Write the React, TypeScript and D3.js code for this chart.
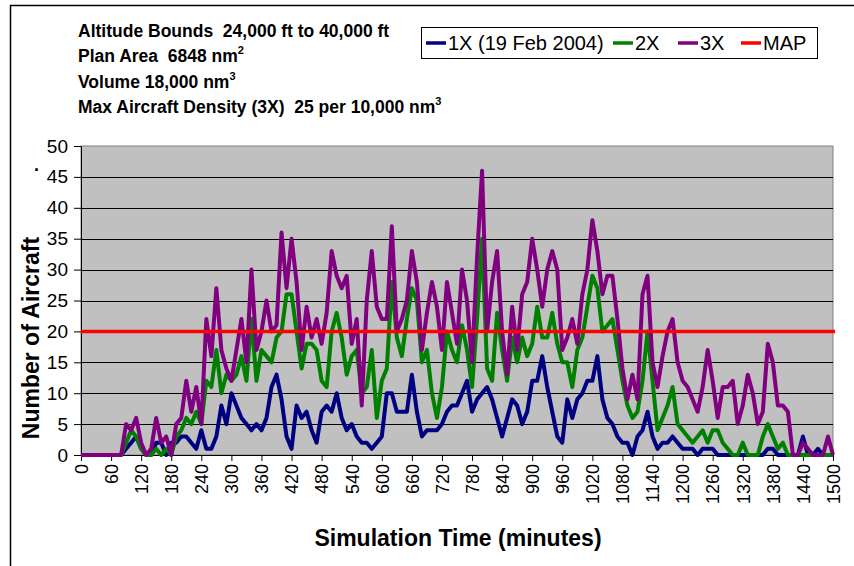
import React, { useEffect, useRef } from 'react';
import * as d3 from 'd3';

// sampled every 10 minutes, 0..1500
const minutes = d3.range(0, 1501, 10);

const series1X = [
  0, 0, 0, 0, 0, 0, 0, 0, 0, 1,
  2, 3, 1, 0, 0, 2, 2, 0, 2, 2,
  3, 3, 2, 1, 4, 1, 1, 3, 8, 5,
  10, 8, 6, 5, 4, 5, 4, 6, 11, 13,
  9, 3, 1, 8, 6, 7, 4, 2, 7, 8,
  7, 10, 6, 4, 5, 3, 2, 2, 1, 2,
  3, 10, 10, 7, 7, 7, 13, 7, 3, 4,
  4, 4, 5, 7, 8, 8, 10, 12, 7, 9,
  10, 11, 9, 6, 3, 6, 9, 8, 5, 7,
  12, 12, 16, 11, 7, 3, 2, 9, 6, 9,
  10, 12, 12, 16, 9, 6, 5, 3, 2, 2,
  0, 3, 4, 7, 3, 1, 2, 2, 3, 2,
  1, 1, 1, 0, 1, 1, 1, 0, 0, 0,
  0, 0, 0, 0, 0, 0, 0, 1, 1, 0,
  0, 0, 0, 0, 3, 0, 0, 1, 0, 0,
  0
];

const series2X = [
  0, 0, 0, 0, 0, 0, 0, 0, 0, 2,
  4, 3, 1, 0, 0, 1, 0, 1, 0, 3,
  4, 6, 5, 7, 5, 12, 11, 17, 10, 13,
  12, 13, 16, 12, 22, 12, 17, 16, 15, 19,
  20, 26, 26, 20, 14, 18, 18, 17, 12, 11,
  20, 23, 19, 13, 16, 17, 10, 11, 17, 6,
  12, 14, 28, 19, 16, 22, 27, 25, 15, 17,
  10, 6, 11, 20, 17, 15, 21, 17, 11, 22,
  35, 14, 12, 23, 17, 12, 19, 15, 19, 16,
  18, 24, 19, 19, 23, 18, 15, 15, 11, 17,
  19, 24, 29, 27, 20, 21, 22, 17, 12, 8,
  6, 7, 12, 20, 12, 4, 6, 8, 11, 5,
  4, 3, 2, 3, 4, 2, 4, 4, 2, 1,
  0, 0, 2, 0, 0, 0, 3, 5, 3, 1,
  2, 0, 0, 0, 0, 0, 0, 0, 0, 0,
  0
];

const series3X = [
  0, 0, 0, 0, 0, 0, 0, 0, 0, 5,
  4, 6, 2, 0, 1, 6, 2, 3, 0, 5,
  6, 12, 7, 11, 5, 22, 16, 27, 17, 14,
  12, 17, 22, 15, 30, 17, 20, 25, 20, 21,
  36, 27, 35, 28, 17, 24, 19, 22, 18, 23,
  33, 29, 27, 29, 18, 22, 8, 25, 33, 24,
  22, 22, 37, 20, 22, 25, 33, 28, 17, 23,
  28, 24, 17, 28, 23, 18, 30, 25, 15, 32,
  46, 20, 28, 33, 20, 13, 24, 17, 26, 28,
  35, 30, 24, 30, 33, 30, 17, 19, 22, 18,
  26, 30, 38, 33, 26, 29, 29, 22, 14, 9,
  13, 9, 26, 29, 15, 11, 16, 20, 22, 15,
  12, 11, 9, 7, 11, 17, 12, 6, 11, 11,
  12, 5, 8, 13, 10, 5, 7, 18, 15, 8,
  8, 7, 0, 0, 2, 1, 0, 0, 0, 3,
  0
];

const mapLevel = 20;

const yTicks = d3.range(0, 51, 5);
const xTicks = d3.range(0, 1501, 60);

const infoLines = [
  { text: 'Altitude Bounds  24,000 ft to 40,000 ft', sup: '' },
  { text: 'Plan Area  6848 nm', sup: '2' },
  { text: 'Volume 18,000 nm', sup: '3' },
  { text: 'Max Aircraft Density (3X)  25 per 10,000 nm', sup: '3' }
];

const legendItems = [
  { name: '1X (19 Feb 2004)', color: '#000080' },
  { name: '2X', color: '#008000' },
  { name: '3X', color: '#800080' },
  { name: 'MAP', color: '#FF0000' }
];

const FONT = 'Arial, "Liberation Sans", sans-serif';

const App = () => {
  const chartRef = useRef(null);

  useEffect(() => {
    if (!chartRef.current) return;
    d3.select(chartRef.current).selectAll('*').remove();

    const width = 854;
    const height = 566;
    const plot = { left: 81, right: 833, top: 146, bottom: 455 };

    const svg = d3.select(chartRef.current)
      .append('svg')
      .attr('width', width)
      .attr('height', height)
      .style('display', 'block')
      .style('background', '#fff');

    // outer chart frame
    svg.append('rect')
      .attr('x', 10.5).attr('y', 5.5)
      .attr('width', 900).attr('height', 700)
      .attr('fill', '#fff')
      .attr('stroke', '#000')
      .attr('stroke-width', 1.5);

    const x = d3.scaleLinear().domain([0, 1500]).range([plot.left, plot.right]);
    const y = d3.scaleLinear().domain([0, 50]).range([plot.bottom, plot.top]);

    // plot area
    svg.append('rect')
      .attr('x', plot.left).attr('y', plot.top)
      .attr('width', plot.right - plot.left)
      .attr('height', plot.bottom - plot.top)
      .attr('fill', '#C0C0C0')
      .attr('stroke', '#808080');

    // gridlines
    svg.append('g')
      .selectAll('line')
      .data(yTicks.filter(d => d > 0 && d < 50))
      .enter()
      .append('line')
      .attr('x1', plot.left).attr('x2', plot.right)
      .attr('y1', d => Math.round(y(d)) + 0.5)
      .attr('y2', d => Math.round(y(d)) + 0.5)
      .attr('stroke', '#000')
      .attr('stroke-width', 1);

    // y axis
    const yAxis = svg.append('g')
      .attr('transform', `translate(${plot.left},0)`)
      .call(d3.axisLeft(y).tickValues(yTicks).tickSize(7).tickPadding(6).tickSizeOuter(0));
    yAxis.selectAll('text')
      .style('font-family', FONT)
      .style('font-size', '19px')
      .attr('fill', '#000');
    yAxis.selectAll('line, path').attr('stroke', '#000');

    // x axis
    const xAxis = svg.append('g')
      .attr('transform', `translate(0,${plot.bottom})`)
      .call(d3.axisBottom(x).tickValues(xTicks).tickFormat(d3.format('d')).tickSize(6).tickSizeOuter(0));
    xAxis.selectAll('text')
      .style('font-family', FONT)
      .style('font-size', '18px')
      .attr('fill', '#000')
      .attr('transform', 'rotate(-90)')
      .attr('text-anchor', 'end')
      .attr('x', -9)
      .attr('y', 0)
      .attr('dy', '0.35em');
    xAxis.selectAll('line, path').attr('stroke', '#000');

    // series
    const line = d3.line()
      .x((d, i) => x(minutes[i]))
      .y(d => y(d));

    [
      { values: series1X, color: '#000080' },
      { values: series2X, color: '#008000' },
      { values: series3X, color: '#800080' }
    ].forEach(s => {
      svg.append('path')
        .datum(s.values)
        .attr('d', line)
        .attr('fill', 'none')
        .attr('stroke', s.color)
        .attr('stroke-width', 4)
        .attr('stroke-linejoin', 'round');
    });

    // MAP level
    svg.append('line')
      .attr('x1', x(0)).attr('x2', x(1500) + 2)
      .attr('y1', y(mapLevel)).attr('y2', y(mapLevel))
      .attr('stroke', '#FF0000')
      .attr('stroke-width', 3.5);

    // axis titles
    svg.append('text')
      .attr('transform', `translate(39,338) rotate(-90)`)
      .attr('text-anchor', 'middle')
      .style('font-family', FONT)
      .style('font-size', '23px')
      .style('font-weight', 'bold')
      .text('Number of Aircraft');

    svg.append('text')
      .attr('x', 34).attr('y', 171)
      .style('font-family', FONT)
      .style('font-size', '18px')
      .style('font-weight', 'bold')
      .text('.');

    svg.append('text')
      .attr('x', 458).attr('y', 546)
      .attr('text-anchor', 'middle')
      .style('font-family', FONT)
      .style('font-size', '23px')
      .style('font-weight', 'bold')
      .text('Simulation Time (minutes)');

    // info block
    const info = svg.append('g');
    infoLines.forEach((l, i) => {
      const t = info.append('text')
        .attr('x', 78)
        .attr('y', 37 + i * 25.3)
        .style('font-family', FONT)
        .style('font-size', '17.5px')
        .style('font-weight', 'bold')
        .style('white-space', 'pre');
      t.append('tspan').text(l.text);
      if (l.sup) {
        t.append('tspan')
          .attr('dy', -8)
          .style('font-size', '11px')
          .text(l.sup);
      }
    });

    // legend
    const legend = svg.append('g');
    legend.append('rect')
      .attr('x', 421.5).attr('y', 27.5)
      .attr('width', 396).attr('height', 31)
      .attr('fill', '#fff')
      .attr('stroke', '#000');

    const legendPos = [426, 613, 678, 741];
    legendItems.forEach((item, i) => {
      const lx = legendPos[i];
      legend.append('line')
        .attr('x1', lx).attr('x2', lx + 20)
        .attr('y1', 43).attr('y2', 43)
        .attr('stroke', item.color)
        .attr('stroke-width', 3.5);
      legend.append('text')
        .attr('x', lx + 22)
        .attr('y', 50)
        .style('font-family', FONT)
        .style('font-size', '20px')
        .text(item.name);
    });
  }, []);

  return (
    <div ref={chartRef} style={{ position: 'absolute', left: 0, top: 0, width: '854px', height: '566px' }}>
    </div>
  );
};

export default App;
